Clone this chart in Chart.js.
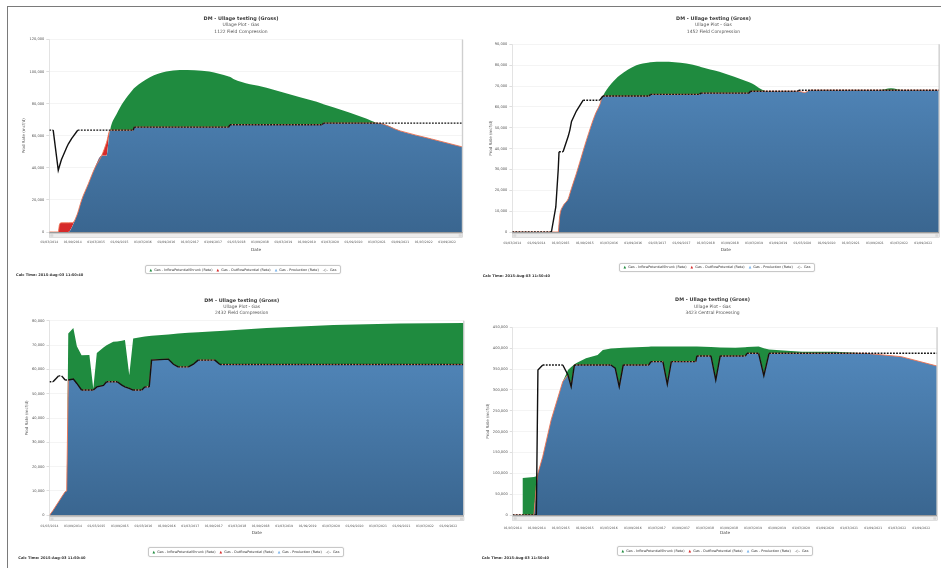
<!DOCTYPE html>
<html>
<head>
<meta charset="utf-8">
<script src="https://cdn.jsdelivr.net/npm/chart.js@4/dist/chart.umd.min.js"></script>
<style>
html, body { margin: 0; padding: 0; background: #fff; }
body { width: 941px; height: 568px; position: relative; overflow: hidden; font-family: "DejaVu Sans", sans-serif; }
.frame { position: absolute; left: 7px; top: 6px; width: 940px; height: 570px; border-left: 1.5px solid #7a7a7a; border-top: 1.5px solid #7a7a7a; }
canvas { position: absolute; }
.legend { position: absolute; border: 0.8px solid #c8c8c8; border-radius: 2px; background: #fff; font-size: 3.4px; line-height: 1.2; color: #333; padding: 1.6px 3.5px; white-space: nowrap; box-shadow: 0 0 1.5px #ddd; }
.legend i { font-style: normal; margin: 0 1px 0 3px; }
.legend i:first-child { margin-left: 0; }
.calc { position: absolute; font-size: 3.6px; line-height: 1.2; font-weight: bold; color: #333; white-space: nowrap; }
</style>
</head>
<body>
<div class="frame"></div>
<script>
// months counted from 01/03/2014
const xTickMonths = [0, 6, 12, 18, 24, 30, 36, 42, 48, 54, 60, 66, 72, 78, 84, 90, 96, 102];
const xTickLabels = ['01/03/2014', '01/09/2014', '01/03/2015', '01/09/2015', '01/03/2016', '01/09/2016',
  '01/03/2017', '01/09/2017', '01/03/2018', '01/09/2018', '01/03/2019', '01/09/2019',
  '01/03/2020', '01/09/2020', '01/03/2021', '01/09/2021', '01/03/2022', '01/09/2022'];
const seriesNames = ['Gas - InflowPotentialShrunk (Rate)', 'Gas - OutflowPotential (Rate)', 'Gas - Production (Rate)', 'Gas'];

// 1122 Field Compression
const p1Month = [0, 1, 2.3, 2.6, 3.1, 4.5, 4.9, 5.8, 6, 7, 7.3, 8.3, 10, 11.7, 13.4, 14.7, 15.6, 17.3, 19, 21.5,
  21.8, 25.8, 30, 33.5, 41, 46, 46.3, 47.2, 55.7, 64.3, 70, 70.3, 72.8, 81.4, 84, 90, 98, 106];
const p1Prod = [0, 0, 0, 0, 0, 0, 0, 3000, 4000, 10000, 12000, 20000, 30000, 40000, 47500, 47500, 63500, 63500, 63500, 63500,
  65400, 65400, 65400, 65400, 65400, 65400, 66900, 66900, 66900, 66900, 66900, 67900, 67900, 67900, 67900, 63000, 58000, 53000];
const p1Outflow = [0, 0, 0, 4500, 5700, 5700, 5700, 5800, 5800, 10000, 12000, 20000, 30000, 40000, 47500, 56000, 63500, 63500, 63500, 63500,
  65400, 65400, 65400, 65400, 65400, 65400, 66900, 66900, 66900, 66900, 66900, 67900, 67900, 67900, 67900, 63000, 58000, 53000];
const p1Inflow = [0, 0, 0, 0, 0, 0, 0, 3000, 4000, 10000, 12000, 20000, 30000, 40000, 47500, 47500, 63500, 73700, 81000, 89000,
  89800, 96500, 100000, 101000, 100000, 97000, 96800, 95400, 89900, 84000, 80000, 79700, 77800, 70600, 67900, 63000, 58000, 53000];
const p1Gas = [63500, 63500, 38500, 41000, 45000, 53000, 55000, 58500, 59200, 62500, 63500, 63500, 63500, 63500, 63500, 63500, 63500, 63500, 63500, 63500,
  65400, 65400, 65400, 65400, 65400, 65400, 66900, 66900, 66900, 66900, 66900, 67900, 67900, 67900, 67900, 67900, 67900, 67900];

// 1452 Field Compression
const p2Month = [0, 9.7, 10.8, 11.4, 11.6, 11.8, 12.6, 13.9, 14.3, 14.7, 15.9, 17.6, 18.4, 20.5, 21.7, 22.5, 24.5, 26.7, 30.8,
  34, 34.3, 37.4, 43.2, 46.5, 46.8, 51.4, 58.8, 59.1, 63.4, 70.8, 71.1, 72.5, 74, 91, 94, 97, 106];
const p2Prod = [0, 0, 0, 0, 4000, 8000, 12500, 16000, 18500, 21000, 28000, 39000, 44000, 56000, 61000, 65200, 65200, 65200, 65200,
  65200, 66000, 66000, 66000, 66000, 66600, 66600, 66600, 67500, 67500, 67500, 67500, 66900, 68000, 68000, 68000, 68000, 68000];
const p2Outflow = [0, 0, 0, 0, 4000, 8000, 12500, 16000, 18500, 21000, 28000, 39000, 44000, 56000, 61000, 65200, 65200, 65200, 65200,
  65200, 66000, 66000, 66000, 66000, 66600, 66600, 66600, 67500, 67500, 67500, 67500, 66900, 68000, 68000, 68000, 68000, 68000];
const p2Inflow = [0, 0, 0, 0, 4000, 8000, 12500, 16000, 18500, 21000, 28000, 39000, 44000, 56000, 61000, 65200, 71000, 75200, 80000,
  81300, 81400, 81600, 80800, 79300, 79100, 76800, 71800, 71600, 67500, 67500, 67500, 66900, 68000, 68000, 68900, 68000, 68000];
const p2Gas = [0, 0, 12000, 30000, 38500, 38500, 38500, 46000, 49000, 53000, 58000, 63200, 63200, 63200, 63200, 65200, 65200, 65200, 65200,
  65200, 66000, 66000, 66000, 66000, 66600, 66600, 66600, 67500, 67500, 67500, 68000, 68000, 68000, 68000, 68000, 68000, 68000];

// 2432 Field Compression
const p3Month = [0, 0.9, 2.3, 3.1, 4, 4.4, 4.8, 6.1, 7, 8.2, 10.2, 11.2, 12.1, 13.8, 14.6, 16.3, 17.3, 18.5, 19.3, 20.4,
  21.4, 23.6, 24.4, 25.5, 26.1, 30.4, 31.7, 32.9, 35.5, 36.8, 38, 42.3, 43.6, 55.5, 72.6, 89.6, 106];
const p3Prod = [0, 2000, 5500, 7500, 9700, 10000, 55600, 56000, 54200, 51500, 51500, 51500, 52800, 53400, 54900, 54900, 54900, 53500, 52800, 52200,
  51500, 51500, 52800, 52800, 63800, 64200, 62100, 61000, 61000, 62100, 63800, 63800, 62000, 62000, 62000, 62000, 62000];
const p3Outflow = [0, 2000, 5500, 7500, 9700, 10000, 55600, 56000, 54200, 51500, 51500, 51500, 52800, 53400, 54900, 54900, 54900, 53500, 52800, 52200,
  51500, 51500, 52800, 52800, 63800, 64200, 62100, 61000, 61000, 62100, 63800, 63800, 62000, 62000, 62000, 62000, 62000];
const p3Inflow = [0, 2000, 5500, 7500, 9700, 10000, 74700, 77000, 69500, 65800, 65900, 52000, 66700, 69000, 69900, 71300, 71500, 71800, 72100, 57600,
  72700, 73300, 73500, 73700, 73800, 74300, 74500, 74700, 75000, 75200, 75300, 75700, 75800, 77000, 78200, 78900, 79100];
const p3Gas = [54900, 54900, 57300, 57300, 55600, 55600, 55600, 56000, 54200, 51500, 51500, 51500, 52800, 53400, 54900, 54900, 54900, 53500, 52800, 52200,
  51500, 51500, 52800, 52800, 63800, 64200, 62100, 61000, 61000, 62100, 63800, 63800, 62000, 62000, 62000, 62000, 62000];

// 3423 Central Processing
const p4Month = [0, 2.4, 2.5, 5.3, 5.9, 6.3, 7.5, 9.6, 12.5, 13.8, 14.6, 15.4, 15.8, 18.3, 21.2, 22.5, 24.5, 25.6, 26.6, 27.6,
  34, 34.5, 37.5, 38.6, 39.6, 45.7, 46, 49.5, 50.7, 51.8, 55.6, 58.1, 58.5, 61.4, 62.7, 64, 72.2, 80.5, 88, 97, 106];
const p4Prod = [0, 0, 0, 0, 70000, 100000, 140000, 228000, 320000, 336000, 307700, 359700, 359700, 359700, 359700, 359700, 359700, 352000, 307700, 359700,
  359700, 367600, 367600, 313400, 367600, 367600, 381300, 381300, 323700, 381300, 381300, 381300, 387700, 387700, 334000, 387700, 387700, 387700, 387700, 379600, 357000];
const p4Outflow = [0, 0, 0, 0, 70000, 100000, 140000, 228000, 320000, 336000, 307700, 359700, 359700, 359700, 359700, 359700, 359700, 352000, 307700, 359700,
  359700, 367600, 367600, 313400, 367600, 367600, 381300, 381300, 323700, 381300, 381300, 381300, 387700, 387700, 334000, 387700, 387700, 387700, 387700, 379600, 357000];
const p4Inflow = [0, 0, 89000, 91000, 93000, 100000, 140000, 228000, 320000, 347700, 355000, 361000, 363800, 375800, 383700, 395700, 399000, 399800, 400500, 401000,
  403500, 403700, 403700, 403700, 403700, 403700, 403700, 402500, 402000, 401600, 401000, 402000, 402500, 403700, 400000, 397000, 391600, 391600, 387700, 379600, 357000];
const p4Gas = [0, 0, 0, 0, 0, 347700, 359700, 359700, 359700, 335700, 307700, 359700, 359700, 359700, 359700, 359700, 359700, 352000, 307700, 359700,
  359700, 367600, 367600, 313400, 367600, 367600, 381300, 381300, 323700, 381300, 381300, 381300, 387700, 387700, 334000, 387700, 387700, 387700, 387700, 387700, 387700];

const GREEN = '#1f8b3f';
const RED = '#d62a2a';
const FONT = '"DejaVu Sans", sans-serif';

Chart.defaults.font.family = FONT;

const panels = [
  { sub: '1122 Field Compression', month: p1Month, inflow: p1Inflow, outflow: p1Outflow, prod: p1Prod, gas: p1Gas,
    yMax: 120000, yStep: 20000, smooth: true,
    box: { left: 8, top: 7, w: 462, h: 277, padL: 11.3, L: 41.3, R: 454.7, T: 32.5, B: 225, titleY: 11.5, subY: 17.7, subGap: 6.8, yTitleX: 16, tickY: 235, dateY: 243 },
    legend: [145, 265], calc: [16, 273.1] },
  { sub: '1452 Field Compression', month: p2Month, inflow: p2Inflow, outflow: p2Outflow, prod: p2Prod, gas: p2Gas,
    yMax: 90000, yStep: 10000, smooth: true,
    box: { left: 470, top: 7, w: 471, h: 277, padL: 16, L: 42.3, R: 471, T: 37.3, B: 225, titleY: 12, subY: 18, subGap: 6.7, yTitleX: 20.7, tickY: 235.7, dateY: 243 },
    legend: [619, 262.7], calc: [482.7, 273.5] },
  { sub: '2432 Field Compression', month: p3Month, inflow: p3Inflow, outflow: p3Outflow, prod: p3Prod, gas: p3Gas,
    yMax: 80000, yStep: 10000, smooth: false,
    box: { left: 8, top: 285, w: 462, h: 283, padL: 11.4, L: 41.5, R: 456, T: 35.7, B: 230.3, titleY: 15.3, subY: 21.3, subGap: 6.7, yTitleX: 18.7, tickY: 241, dateY: 248.3 },
    legend: [148, 547.4], calc: [18.3, 555.8] },
  { sub: '3423 Central Processing', month: p4Month, inflow: p4Inflow, outflow: p4Outflow, prod: p4Prod, gas: p4Gas,
    yMax: 450000, yStep: 50000, smooth: false,
    box: { left: 470, top: 285, w: 471, h: 283, padL: 14, L: 42.7, R: 471, T: 42.3, B: 230, titleY: 15, subY: 21, subGap: 6.8, yTitleX: 18.3, tickY: 242.7, dateY: 248.3 },
    legend: [617, 546.4], calc: [481.7, 555.5] }
];

const pts = (months, vals) => months.map((m, i) => ({ x: m, y: vals[i] }));
const commas = v => String(v).replace(/\B(?=(\d{3})+(?!\d))/g, ',');

// scrollbar strip under the plot and the shaded right edge
const framePlugin = {
  id: 'framePlugin',
  afterDraw(chart) {
    const { ctx, chartArea: a } = chart;
    ctx.save();
    ctx.fillStyle = '#ececec';
    ctx.fillRect(a.left, a.bottom + 1.6, a.right - a.left, 3.8);
    ctx.strokeStyle = '#c6c6c6';
    ctx.lineWidth = 0.5;
    ctx.strokeRect(a.left, a.bottom + 1.6, a.right - a.left, 3.8);
    ctx.fillStyle = '#d8d8d8';
    ctx.fillRect(a.left + 1, a.bottom + 2.3, 3, 2.4);
    ctx.fillRect(a.right - 4, a.bottom + 2.3, 3, 2.4);
    ctx.strokeStyle = '#9a9a9a';
    ctx.lineWidth = 1.3;
    ctx.beginPath();
    ctx.moveTo(a.left, a.bottom + 0.6);
    ctx.lineTo(a.right, a.bottom + 0.6);
    ctx.stroke();
    ctx.strokeStyle = '#cfcfcf';
    ctx.lineWidth = 1.4;
    ctx.beginPath();
    ctx.moveTo(a.right - 0.2, a.top);
    ctx.lineTo(a.right - 0.2, a.bottom);
    ctx.stroke();
    ctx.restore();
  }
};

function blueFill(context) {
  const { ctx, chartArea } = context.chart;
  if (!chartArea) return '#4a7eb0';
  const g = ctx.createLinearGradient(0, chartArea.top, 0, chartArea.bottom);
  g.addColorStop(0, '#558cc1');
  g.addColorStop(1, '#3a6690');
  return g;
}

panels.forEach((p, n) => {
  const b = p.box;
  const canvas = document.createElement('canvas');
  canvas.width = b.w;
  canvas.height = b.h;
  canvas.style.left = b.left + 'px';
  canvas.style.top = b.top + 'px';
  document.body.appendChild(canvas);

  const titleLH = 4.9 * 1.2;
  const titleEnd = b.titleY + titleLH / 2;
  const subTop = Math.max(0, b.subY - b.subGap / 2 - titleEnd);
  const subBottom = b.T - (titleEnd + subTop + 2 * b.subGap);
  const mode = p.smooth ? 'monotone' : 'default';

  new Chart(canvas, {
    type: 'line',
    data: {
      datasets: [
        { label: seriesNames[0], data: pts(p.month, p.inflow), order: 2, borderColor: 'rgba(0,0,0,0)', borderWidth: 0,
          cubicInterpolationMode: mode, fill: { target: 2, above: GREEN, below: 'rgba(0,0,0,0)' } },
        { label: seriesNames[1], data: pts(p.month, p.outflow), order: 1, borderColor: '#ef7452', borderWidth: 0.9,
          cubicInterpolationMode: mode, fill: { target: 2, above: RED, below: 'rgba(0,0,0,0)' } },
        { label: seriesNames[2], data: pts(p.month, p.prod), order: 3, borderColor: 'rgba(0,0,0,0)', borderWidth: 0,
          cubicInterpolationMode: mode, backgroundColor: blueFill, fill: 'origin' },
        { label: seriesNames[3], data: pts(p.month, p.gas), order: 0, borderColor: '#111', borderWidth: 1.4,
          fill: false,
          segment: { borderDash: c => (c.p0.parsed.y === c.p1.parsed.y ? [1.8, 1.3] : undefined) } }
      ]
    },
    options: {
      responsive: false,
      animation: false,
      events: [],
      elements: { point: { radius: 0 }, line: { tension: 0 } },
      layout: { padding: { left: b.padL, right: b.w - b.R, top: 0, bottom: 0 } },
      plugins: {
        legend: { display: false },
        tooltip: { enabled: false },
        title: { display: true, text: 'DM - Ullage testing (Gross)', color: '#3a3a3a',
          font: { size: 4.9, weight: 'bold', lineHeight: 1.2 }, padding: { top: b.titleY - titleLH / 2, bottom: 0 } },
        subtitle: { display: true, text: ['Ullage Plot - Gas', p.sub], color: '#555',
          font: { size: 4.47, lineHeight: b.subGap / 4.47 }, padding: { top: subTop, bottom: subBottom } }
      },
      scales: {
        x: {
          type: 'linear', min: 0, max: 106,
          afterBuildTicks: s => { s.ticks = xTickMonths.map(v => ({ value: v })); },
          afterFit: s => { s.height = b.h - b.B; },
          ticks: { autoSkip: false, maxRotation: 0, color: '#555', font: { size: 3.1, lineHeight: 1.2 },
            padding: b.tickY - b.B - 1.86, callback: v => xTickLabels[xTickMonths.indexOf(v)] },
          grid: { display: false, drawTicks: false },
          border: { display: false },
          title: { display: true, text: 'Date', color: '#444', font: { size: 4.2, lineHeight: 1.2 },
            padding: { top: 0, bottom: b.h - b.dateY - 2.52 } }
        },
        y: {
          min: 0, max: p.yMax,
          afterFit: s => { s.width = b.L - b.padL; },
          ticks: { stepSize: p.yStep, color: '#555', font: { size: 3.6 }, padding: 2, callback: v => commas(v) },
          grid: { color: '#ececec', lineWidth: 0.6, tickLength: 3, tickColor: '#c8c8c8', tickWidth: 0.6 },
          border: { color: '#dcdcdc', width: 0.8 },
          title: { display: true, text: 'Prod Rate (mcf/d)', color: '#555', font: { size: 4, lineHeight: 1.2 },
            padding: { top: Math.max(0, b.yTitleX - b.padL - 2.4), bottom: 0 } }
        }
      }
    },
    plugins: [framePlugin]
  });

  const lg = document.createElement('div');
  lg.className = 'legend';
  lg.style.left = p.legend[0] + 'px';
  lg.style.top = p.legend[1] + 'px';
  const marks = [['▲', GREEN], ['▲', RED], ['▲', '#7cb5ec'], ['-◇-', '#222']];
  lg.innerHTML = seriesNames.map((s, i) =>
    '<i style="color:' + marks[i][1] + '">' + marks[i][0] + '</i> ' + s).join(' ');
  document.body.appendChild(lg);

  const ct = document.createElement('div');
  ct.className = 'calc';
  ct.style.left = p.calc[0] + 'px';
  ct.style.top = p.calc[1] + 'px';
  ct.textContent = 'Calc Time: 2015-Aug-03 11:50:40';
  document.body.appendChild(ct);
});
</script>
</body>
</html>
